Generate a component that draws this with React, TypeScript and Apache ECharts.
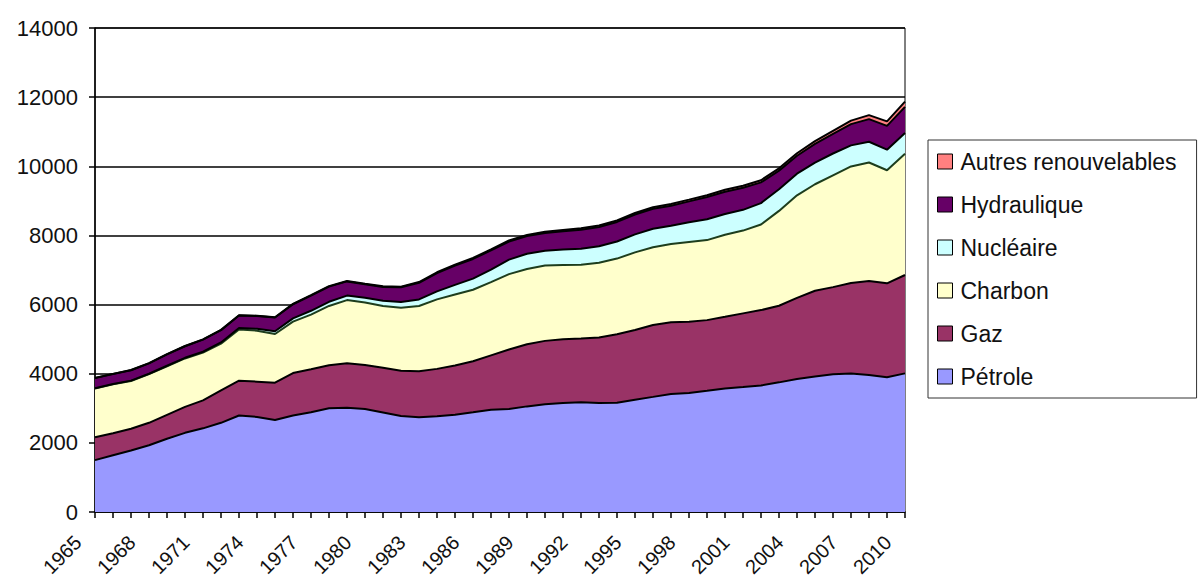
import React, { useEffect, useRef } from "react";
import * as echarts from "echarts";

const years = [
  "1965", "1966", "1967", "1968", "1969", "1970", "1971", "1972", "1973", "1974",
  "1975", "1976", "1977", "1978", "1979", "1980", "1981", "1982", "1983", "1984",
  "1985", "1986", "1987", "1988", "1989", "1990", "1991", "1992", "1993", "1994",
  "1995", "1996", "1997", "1998", "1999", "2000", "2001", "2002", "2003", "2004",
  "2005", "2006", "2007", "2008", "2009", "2010",
];

const petrole = [
  1500, 1640, 1780, 1930, 2120, 2290, 2420, 2580, 2790, 2750,
  2660, 2790, 2885, 3000, 3016, 2980, 2880, 2775, 2740, 2770,
  2815, 2885, 2960, 2980, 3055, 3115, 3150, 3178, 3150, 3160,
  3250, 3330, 3415, 3445, 3505, 3575, 3615, 3660, 3750, 3850,
  3920, 3985, 4005, 3960, 3895, 4010,
];
const gaz = [
  660, 640, 630, 650, 690, 750, 810, 940, 1010, 1020,
  1080, 1230, 1245, 1245, 1284, 1270, 1290, 1310, 1330, 1370,
  1425, 1475, 1570, 1720, 1795, 1835, 1850, 1843, 1900, 1980,
  2015, 2080, 2075, 2055, 2045, 2070, 2130, 2180, 2215, 2345,
  2480, 2520, 2620, 2725, 2720, 2845,
];
const charbon = [
  1414, 1412, 1381, 1408, 1406, 1402, 1380, 1350, 1480, 1475,
  1410, 1485, 1580, 1715, 1830, 1810, 1790, 1825, 1890, 2010,
  2050, 2070, 2120, 2180, 2180, 2180, 2144, 2134, 2160, 2190,
  2245, 2250, 2260, 2310, 2315, 2375, 2395, 2475, 2745, 2965,
  3080, 3235, 3370, 3425, 3270, 3505,
];
const nucleaire = [
  6, 8, 9, 12, 14, 18, 25, 35, 45, 55,
  80, 95, 110, 120, 130, 140, 150, 165, 190, 230,
  280, 320, 360, 420, 440, 425, 446, 460, 475, 495,
  520, 535, 530, 570, 605, 600, 600, 620, 625, 625,
  625, 630, 610, 600, 595, 600,
];
const hydraulique = [
  295, 290, 300, 300, 330, 335, 350, 355, 360, 370,
  395, 410, 440, 440, 410, 390, 400, 425, 480, 530,
  560, 570, 555, 520, 510, 515, 530, 550, 560, 565,
  575, 575, 580, 605, 640, 645, 640, 600, 540, 520,
  545, 565, 615, 655, 690, 760,
];
const autres = [
  5, 5, 6, 6, 7, 7, 8, 8, 9, 9,
  10, 11, 12, 13, 14, 15, 17, 19, 21, 24,
  27, 29, 31, 33, 35, 37, 39, 40, 41, 43,
  45, 47, 49, 51, 54, 56, 58, 62, 66, 72,
  80, 90, 100, 115, 130, 150,
];

const yTicks = { min: 0, max: 14000, interval: 2000 };

const seriesDefs = [
  { name: "Pétrole", data: petrole, color: "#9999FF", line: "#000" },
  { name: "Gaz", data: gaz, color: "#993366", line: "#000" },
  { name: "Charbon", data: charbon, color: "#FFFFCC", line: "#1d3d1d" },
  { name: "Nucléaire", data: nucleaire, color: "#CCFFFF", line: "#000" },
  { name: "Hydraulique", data: hydraulique, color: "#660066", line: "#000" },
  { name: "Autres renouvelables", data: autres, color: "#FF8080", line: "#000" },
];

const FONT = "'Liberation Sans', Arial, sans-serif";

export default function App() {
  const ref = useRef<HTMLDivElement>(null);
  useEffect(() => {
    const chart = echarts.init(ref.current!, null, { renderer: "svg" });
    chart.setOption({
      animation: false,
      backgroundColor: "#ffffff",
      textStyle: { fontFamily: FONT },
      grid: {
        left: 95,
        right: 295,
        top: 28,
        bottom: 75,
        show: true,
        borderColor: "#000",
        borderWidth: 1,
        containLabel: false,
        outerBoundsMode: "none",
      },
      legend: {
        orient: "vertical",
        left: 928,
        top: 140,
        padding: [10, 20, 10, 9],
        itemGap: 20,
        itemWidth: 15,
        itemHeight: 15,
        icon: "rect",
        borderColor: "#333",
        borderWidth: 1,
        itemStyle: { borderColor: "#000", borderWidth: 1 },
        textStyle: { fontFamily: FONT, fontSize: 23, color: "#111", padding: [0, 0, 0, 3] },
        data: seriesDefs.map((s) => s.name).reverse(),
      },
      xAxis: {
        type: "category",
        data: years,
        boundaryGap: false,
        axisLine: { lineStyle: { color: "#000", width: 1.5 } },
        axisTick: { show: true, interval: 0, length: 6, lineStyle: { color: "#000", width: 1.5 } },
        axisLabel: {
          interval: 2,
          rotate: 45,
          margin: 10,
          fontSize: 20,
          fontFamily: FONT,
          color: "#111",
          padding: [0, 24, 0, 0],
          hideOverlap: false,
        },
        splitLine: { show: false },
      },
      yAxis: {
        type: "value",
        min: yTicks.min,
        max: yTicks.max,
        interval: yTicks.interval,
        axisLine: { show: true, lineStyle: { color: "#000", width: 1.5 } },
        axisTick: { show: true, length: 6, lineStyle: { color: "#000", width: 1.5 } },
        axisLabel: {
          margin: 17,
          fontSize: 22,
          fontFamily: FONT,
          color: "#111",
          formatter: (v: number) => String(v),
        },
        splitLine: { show: true, lineStyle: { color: "#000", width: 1.5 } },
      },
      series: seriesDefs.map((s) => ({
        name: s.name,
        type: "line",
        stack: "total",
        data: s.data,
        symbol: "none",
        showSymbol: false,
        itemStyle: { color: s.color },
        lineStyle: { color: s.line, width: 2 },
        areaStyle: { color: s.color, opacity: 1 },
        emphasis: { disabled: true },
      })),
    });
    return () => chart.dispose();
  }, []);
  return (
    <div
      ref={ref}
      style={{ position: "fixed", left: 0, top: 0, width: 1200, height: 587, background: "#fff" }}
    />
  );
}
